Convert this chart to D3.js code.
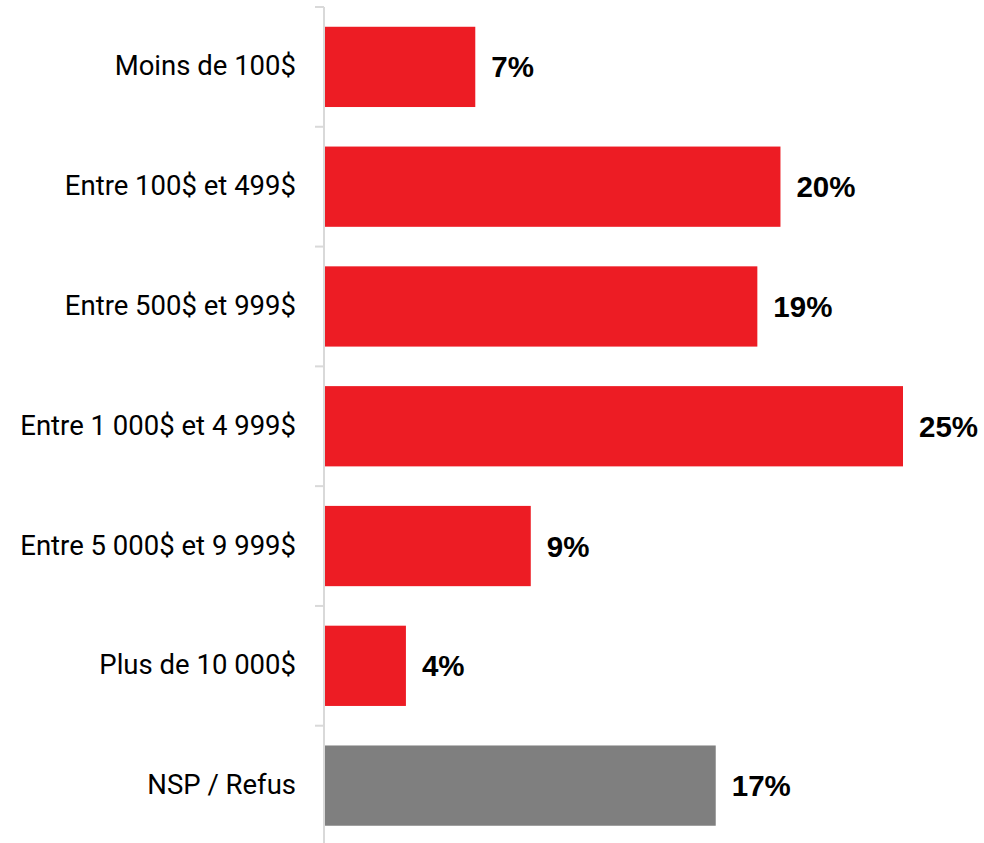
<!DOCTYPE html>
<html><head><meta charset="utf-8">
<script src="https://cdn.jsdelivr.net/npm/d3@7"></script>
<style>body{margin:0;background:#fff}</style>
</head><body>
<svg id="chart" width="984" height="843"></svg>
<script>
const categories = ["Moins de 100$","Entre 100$ et 499$","Entre 500$ et 999$","Entre 1 000$ et 4 999$","Entre 5 000$ et 9 999$","Plus de 10 000$","NSP / Refus"];
const values = [6.5, 19.7, 18.7, 25.0, 8.9, 3.5, 16.9];
const valueLabels = ["7%","20%","19%","25%","9%","4%","17%"];
const colors = ["#ED1C24","#ED1C24","#ED1C24","#ED1C24","#ED1C24","#ED1C24","#7F7F7F"];

const svg = d3.select("#chart");
const x0 = 325;
const x = d3.scaleLinear().domain([0, 25]).range([x0, 903]);
const y = d3.scaleBand().domain(categories).range([7, 845.5]).paddingInner(0.33).paddingOuter(0.165);

const step = y.step();
svg.append("line").attr("x1", 324).attr("x2", 324).attr("y1", 7).attr("y2", 845)
  .attr("stroke", "#d9d9d9").attr("stroke-width", 2);
const bounds = d3.range(categories.length + 1).map(i => 7 + i * step);
svg.selectAll(".tick").data(bounds).enter().append("line")
  .attr("x1", 315).attr("x2", 324).attr("y1", d => d).attr("y2", d => d)
  .attr("stroke", "#d9d9d9").attr("stroke-width", 2);

const data = categories.map((c, i) => ({c, v: values[i], l: valueLabels[i], col: colors[i]}));

svg.selectAll(".bar").data(data).enter().append("rect")
  .attr("x", x0).attr("y", d => y(d.c)).attr("width", d => x(d.v) - x0)
  .attr("height", y.bandwidth()).attr("fill", d => d.col);

svg.selectAll(".cat").data(data).enter().append("text")
  .attr("x", 296).attr("y", d => y(d.c) + y.bandwidth() / 2 + 8.5)
  .attr("text-anchor", "end")
  .attr("font-family", "Roboto, sans-serif").attr("font-size", 27.5).attr("fill", "#000")
  .text(d => d.c);

svg.selectAll(".val").data(data).enter().append("text")
  .attr("x", d => x(d.v) + 16).attr("y", d => y(d.c) + y.bandwidth() / 2 + 10.5)
  .attr("font-family", "'Liberation Sans', Arial, sans-serif").attr("font-weight", "bold")
  .attr("font-size", 29.5).attr("fill", "#000")
  .text(d => d.l);
</script>
</body></html>
